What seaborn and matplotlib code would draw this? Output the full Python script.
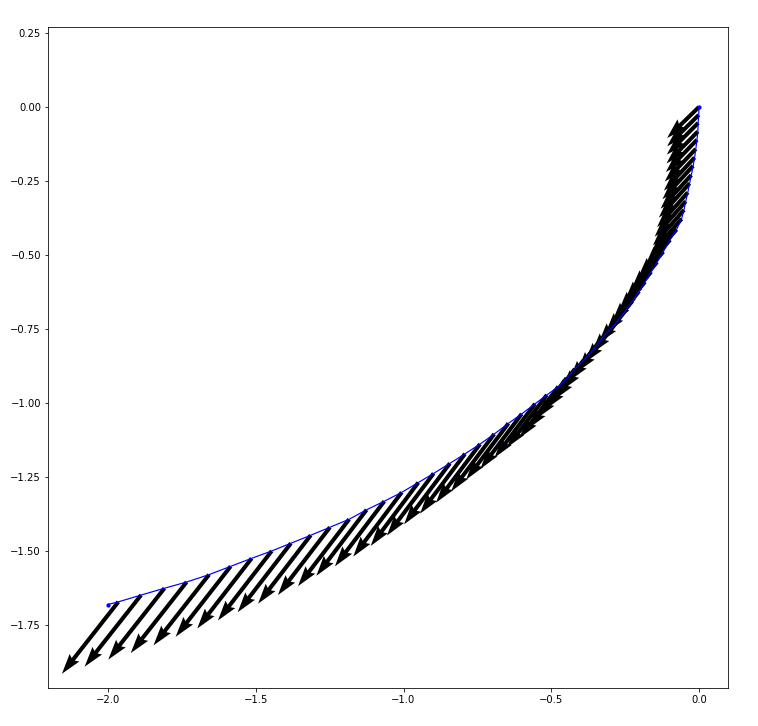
import numpy as np
import pandas as pd
import matplotlib
matplotlib.use("Agg")
import matplotlib.pyplot as plt
import seaborn as sns

# path points
xs = [0.000, -0.001, -0.003, -0.004, -0.007, -0.011, -0.015, -0.020, -0.026, -0.032,
      -0.038, -0.045, -0.051, -0.059, -0.076, -0.098, -0.121, -0.142, -0.162, -0.183,
      -0.203, -0.225, -0.247, -0.269, -0.293, -0.318, -0.342, -0.364, -0.391, -0.420,
      -0.448, -0.476, -0.515, -0.555, -0.600, -0.645, -0.693, -0.741, -0.792, -0.843,
      -0.898, -0.950, -1.006, -1.065, -1.125, -1.184, -1.249, -1.314, -1.381, -1.446,
      -1.514, -1.585, -1.658, -1.734, -1.809, -1.888, -1.965, -2.001]
ys = [0.000, -0.027, -0.054, -0.083, -0.111, -0.142, -0.171, -0.199, -0.230, -0.258,
      -0.289, -0.319, -0.348, -0.378, -0.414, -0.449, -0.489, -0.524, -0.557, -0.591,
      -0.623, -0.655, -0.686, -0.715, -0.743, -0.770, -0.799, -0.827, -0.856, -0.885,
      -0.916, -0.945, -0.973, -1.003, -1.037, -1.069, -1.105, -1.139, -1.172, -1.204,
      -1.238, -1.269, -1.302, -1.332, -1.361, -1.393, -1.420, -1.447, -1.474, -1.500,
      -1.525, -1.552, -1.580, -1.605, -1.626, -1.649, -1.672, -1.681]

# arrow vectors at every point except the last one
us = [-0.108, -0.107, -0.106, -0.106, -0.105, -0.105, -0.104, -0.104, -0.104, -0.104,
      -0.104, -0.105, -0.105, -0.106, -0.107, -0.108, -0.109, -0.110, -0.111, -0.112,
      -0.113, -0.115, -0.116, -0.118, -0.119, -0.121, -0.122, -0.124, -0.126, -0.128,
      -0.130, -0.132, -0.135, -0.137, -0.140, -0.143, -0.146, -0.149, -0.152, -0.155,
      -0.158, -0.161, -0.164, -0.167, -0.170, -0.173, -0.176, -0.178, -0.180, -0.182,
      -0.184, -0.186, -0.188, -0.189, -0.190, -0.191, -0.191]
vs = [-0.105, -0.106, -0.107, -0.108, -0.109, -0.110, -0.112, -0.113, -0.114, -0.116,
      -0.117, -0.119, -0.120, -0.122, -0.124, -0.127, -0.129, -0.132, -0.134, -0.137,
      -0.140, -0.143, -0.146, -0.149, -0.152, -0.155, -0.158, -0.161, -0.164, -0.167,
      -0.171, -0.174, -0.178, -0.182, -0.186, -0.190, -0.194, -0.198, -0.202, -0.206,
      -0.210, -0.214, -0.217, -0.220, -0.223, -0.226, -0.229, -0.231, -0.233, -0.235,
      -0.237, -0.238, -0.239, -0.240, -0.241, -0.242, -0.243]

xticks = [-2.0, -1.5, -1.0, -0.5, 0.0]
yticks = [0.25, 0.0, -0.25, -0.5, -0.75, -1.0, -1.25, -1.5, -1.75]

df = pd.DataFrame({'x': xs, 'y': ys})
ends = df.iloc[[0, -1]]

fig = plt.figure(figsize=(758/72, 726/72), dpi=72)
ax = fig.add_axes([48/758, 1 - 688/726, 680/758, 661/726])

ax.quiver(df.x[:-1], df.y[:-1], us, vs, angles='xy', scale_units='xy', scale=1,
          width=0.006, color='black')
sns.lineplot(data=df, x='x', y='y', sort=False, color='blue', lw=1.2, ax=ax, zorder=3)
sns.scatterplot(data=ends, x='x', y='y', color='blue', s=18, linewidth=0, ax=ax, zorder=4)

ax.set_xlim(-2.203, 0.098)
ax.set_ylim(-1.963, 0.27)
ax.set_xticks(xticks)
ax.set_yticks(yticks)
ax.set_xlabel('')
ax.set_ylabel('')

fig.savefig('out.png', dpi=72)
